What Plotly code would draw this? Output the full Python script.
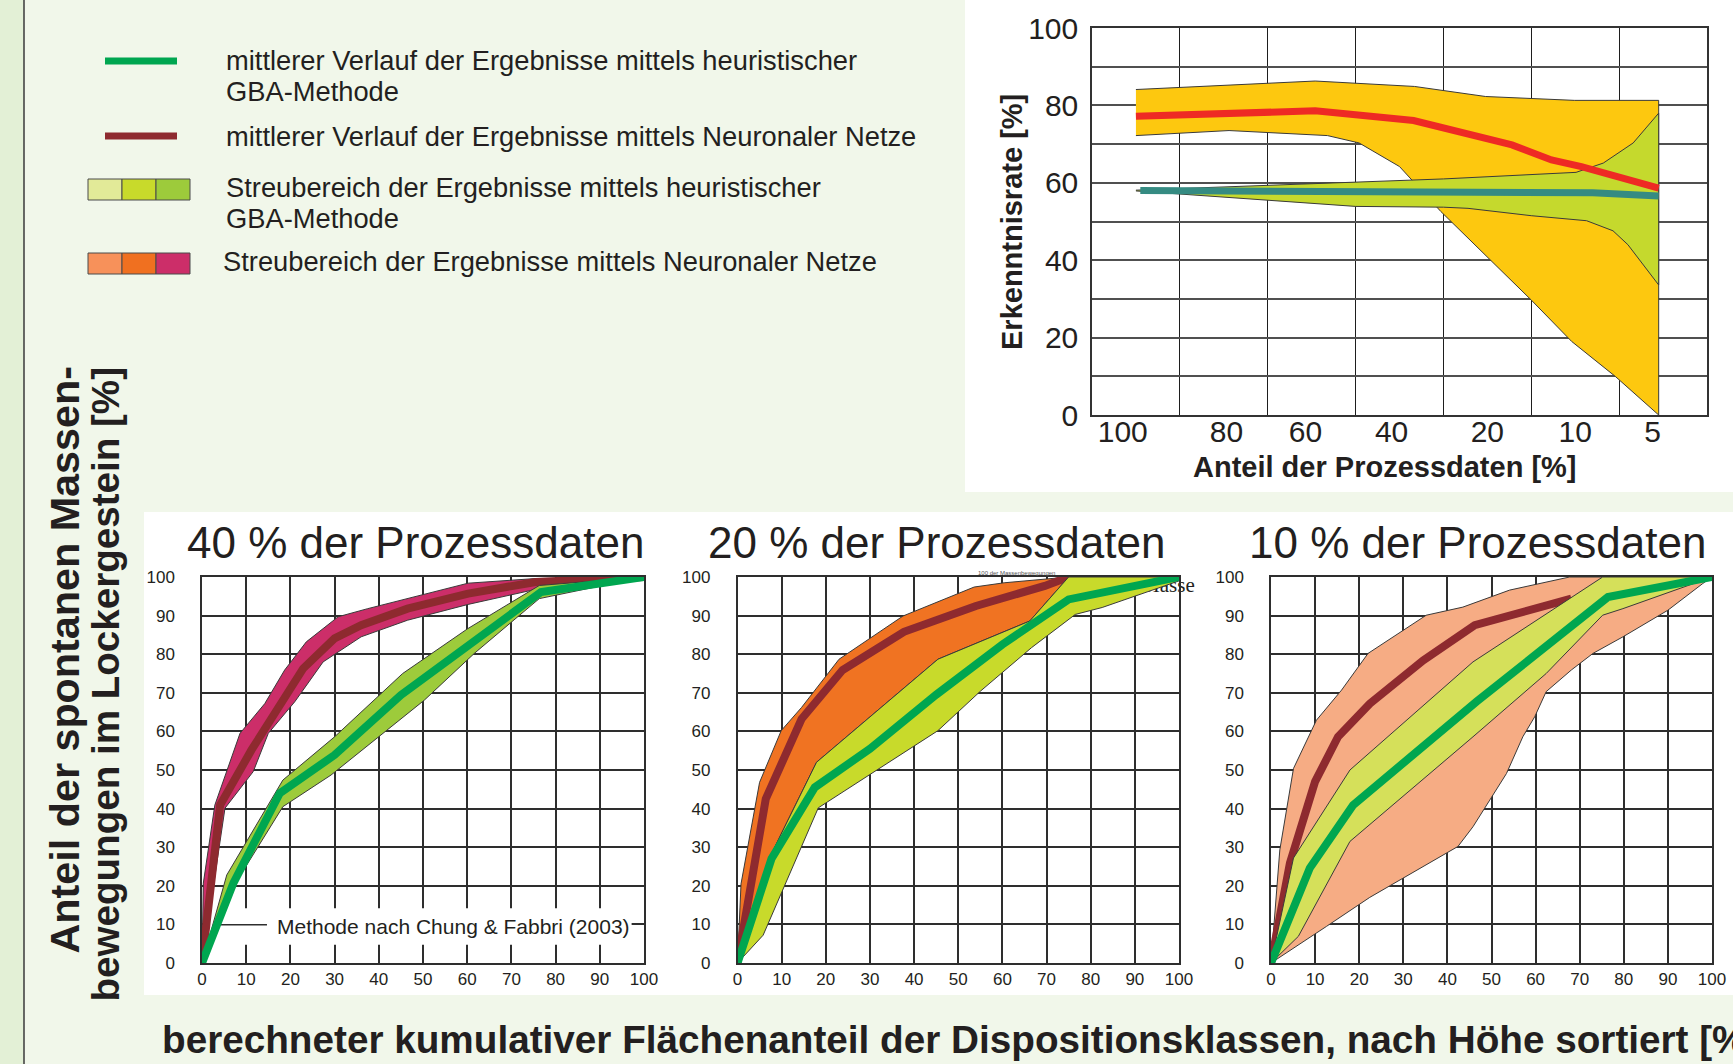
import plotly.graph_objects as go

W, H = 1733, 1064

# ---------------- top chart: recognition rate vs. share of process data ----------------
share_labels = ["100", "80", "60", "40", "20", "10", "5"]
share_label_pos = [-0.15, 1.03, 1.93, 2.91, 4.0, 5.0, 5.88]
rate_ticks = [0, 20, 40, 60, 80, 100]

# x values are category positions (0 = 100 %, 6 = 5 %)
nn_spread_upper_x = [0, 2.04, 3.17, 3.98, 4.99, 5.95]
nn_spread_upper_y = [84.1, 86.3, 84.9, 82.3, 81.3, 81.3]
nn_spread_lower_x = [0, 1.06, 2.18, 2.54, 3.0, 3.47, 4.5, 4.96, 5.46, 5.95]
nn_spread_lower_y = [72.2, 73.5, 72.2, 70.3, 64.2, 52.6, 29.7, 19.0, 9.9, 0]

gba_spread_upper_x = [0, 2.5, 3.5, 5.01, 5.32, 5.66, 5.95]
gba_spread_upper_y = [58.1, 60.1, 61.0, 62.7, 65.1, 70.3, 78.0]
gba_spread_lower_x = [0, 2.5, 3.5, 3.78, 4.5, 5.13, 5.43, 5.6, 5.95]
gba_spread_lower_y = [57.9, 53.9, 53.7, 53.4, 51.5, 50.2, 47.6, 44.0, 33.6]

nn_rate_x = [0, 2.04, 3.16, 4.28, 4.73, 5.07, 5.95]
nn_rate_y = [77.2, 78.6, 76.1, 69.8, 65.9, 64.2, 58.6]
gba_rate_x = [0.05, 2.5, 4.0, 5.2, 5.95]
gba_rate_y = [58.0, 57.6, 57.5, 57.4, 56.6]

# ---------------- bottom panels: cumulative curves ----------------
panel_titles = ["40 % der Prozessdaten", "20 % der Prozessdaten", "10 % der Prozessdaten"]
percent_ticks = list(range(0, 101, 10))

# 40 % of process data
nn40_upper_x = [0, 0.3, 2.9, 8.6, 14.2, 18.7, 23.6, 30.8, 37.5, 46.5, 55.6, 60.2, 75.5, 100]
nn40_upper_y = [0, 20.7, 40.9, 59.5, 67.2, 75.9, 83.2, 89.7, 91.8, 94.4, 97.0, 98.4, 99.6, 100]
nn40_lower_x = [0, 5.2, 11.6, 15.0, 21.0, 27.4, 36.0, 46.5, 60.2, 76.3, 100]
nn40_lower_y = [0, 40.1, 49.6, 59.5, 67.7, 78.0, 84.5, 88.8, 92.9, 97.0, 100]
nn40_mean_x = [0, 4.1, 11.2, 16.8, 22.9, 30, 36, 46.5, 60.2, 75.5, 100]
nn40_mean_y = [0, 40.9, 55.2, 65.5, 76.3, 84.1, 87.5, 91.8, 95.7, 98.7, 100]
gba40_upper_x = [0, 5.6, 18.3, 30, 45.4, 60.1, 76.3, 100]
gba40_upper_y = [0, 22.8, 47.4, 58.6, 75.0, 86.6, 97.8, 100]
gba40_lower_x = [0, 7.1, 18.3, 29.2, 39.4, 50.3, 61.6, 76.3, 100]
gba40_lower_y = [0, 19.8, 40.5, 48.7, 58.2, 68.1, 80.2, 94.4, 100]
gba40_mean_x = [0, 7.1, 17.6, 30, 45, 61.6, 76.7, 100]
gba40_mean_y = [0, 20.7, 44.0, 53.9, 69.4, 83.2, 96.1, 100]

# 20 % of process data
nn20_upper_x = [0, 0.8, 5.0, 9.9, 14.5, 23.0, 37.5, 53.6, 60.4, 75]
nn20_upper_y = [0, 20.5, 46.8, 60.2, 66.2, 78.7, 89.9, 97.4, 98.5, 100]
nn20_lower_x = [0, 7.3, 17.9, 45.4, 66.2, 75]
nn20_lower_y = [0, 27.4, 52.0, 78.7, 88.6, 100]
nn20_mean_x = [0, 6.4, 14.5, 23.8, 37.7, 54.0, 69.6, 75]
nn20_mean_y = [0, 42.5, 63.2, 75.9, 85.8, 92.5, 97.7, 100]
gba20_upper_x = [0, 7.3, 17.9, 45.4, 66.2, 75, 100]
gba20_upper_y = [0, 27.4, 52.0, 78.7, 88.6, 100, 100]
gba20_lower_x = [0, 5.8, 18.3, 45.4, 55.1, 66.6, 76.5, 82.6, 100]
gba20_lower_y = [0, 7.2, 40.2, 60.2, 70.5, 81.7, 90.3, 92.1, 99.0]
gba20_mean_x = [0, 7.7, 17.5, 30, 45, 60, 75, 100]
gba20_mean_y = [0, 27.0, 45.5, 55.5, 69.5, 82.5, 94.2, 100]

# 10 % of process data
nn10_upper_x = [0, 2.0, 5.1, 10.3, 16.0, 22.0, 35.2, 43.5, 54.1, 67.7, 100]
nn10_upper_y = [0, 29.3, 50.4, 62.9, 70.7, 80.2, 90.1, 92.2, 96.6, 100, 100]
nn10_lower_x = [0, 12.6, 22.4, 35.2, 42.4, 45.8, 49.6, 53.4, 57.1, 59.8, 62.4, 68.1, 73.0, 79.8, 90.0, 97.9, 100]
nn10_lower_y = [0, 9.5, 17.0, 25.5, 30.2, 35.3, 42.2, 49.1, 58.6, 63.8, 70.3, 75.9, 80.2, 84.5, 91.4, 98.3, 100]
nn10_mean_x = [0, 4.3, 10.0, 15.2, 22.4, 34.5, 46.2, 68.1]
nn10_mean_y = [0, 25.9, 47.0, 58.6, 67.2, 78.4, 87.5, 94.4]
gba10_upper_x = [0, 5.1, 17.9, 45.8, 75.2, 100]
gba10_upper_y = [0, 27.2, 50.0, 78.0, 100, 100]
gba10_lower_x = [0, 6.2, 17.9, 45.8, 62.4, 75.2, 79.8, 100]
gba10_lower_y = [0, 6.9, 31.5, 58.6, 75.0, 90.1, 91.8, 100]
gba10_mean_x = [0, 8.8, 18.6, 46.6, 76.4, 100]
gba10_mean_y = [0, 24.6, 40.9, 67.7, 94.8, 100]

# colours
GBA_MEAN = "#00A650"
NN_MEAN = "#8E2A2F"
GBA_SWATCH = ["#E2EA98", "#C8DA2B", "#9DCB3B"]
NN_SWATCH = ["#F7915A", "#F07020", "#CC2E69"]
TEXT = "#231F20"
FONT = "Liberation Sans, Arial, sans-serif"


def fx(px):
    return px / W


def fy(py):
    return 1 - py / H


def band(xu, yu, xl, yl, color, xa, ya):
    return go.Scatter(
        x=list(xu) + list(xl)[::-1], y=list(yu) + list(yl)[::-1],
        mode="lines", fill="toself", fillcolor=color,
        line=dict(color="#3a3a3a", width=1), xaxis=xa, yaxis=ya,
        hoverinfo="skip", showlegend=False,
    )


def curve(x, y, color, width, xa, ya):
    return go.Scatter(
        x=x, y=y, mode="lines", line=dict(color=color, width=width),
        xaxis=xa, yaxis=ya, hoverinfo="skip", showlegend=False,
    )


fig = go.Figure()

# top chart
fig.add_trace(band(nn_spread_upper_x, nn_spread_upper_y, nn_spread_lower_x, nn_spread_lower_y, "#FDC80F", "x", "y"))
fig.add_trace(band(gba_spread_upper_x, gba_spread_upper_y, gba_spread_lower_x, gba_spread_lower_y, "#C5D92D", "x", "y"))
fig.add_trace(curve(nn_rate_x, nn_rate_y, "#EE2A24", 7, "x", "y"))
fig.add_trace(curve(gba_rate_x, gba_rate_y, "#358B82", 7, "x", "y"))

# text partly hidden under the 20 % curves
fig.add_trace(go.Scatter(
    x=[97.5], y=[97.4], mode="text", text=["Masse"], xaxis="x3", yaxis="y3",
    textfont=dict(family="Liberation Serif, Times New Roman, serif", size=21, color=TEXT),
    cliponaxis=False, hoverinfo="skip", showlegend=False,
))

panels = [
    ("x2", "y2", nn40_upper_x, nn40_upper_y, nn40_lower_x, nn40_lower_y, nn40_mean_x, nn40_mean_y,
     gba40_upper_x, gba40_upper_y, gba40_lower_x, gba40_lower_y, gba40_mean_x, gba40_mean_y,
     NN_SWATCH[2], GBA_SWATCH[2]),
    ("x3", "y3", nn20_upper_x, nn20_upper_y, nn20_lower_x, nn20_lower_y, nn20_mean_x, nn20_mean_y,
     gba20_upper_x, gba20_upper_y, gba20_lower_x, gba20_lower_y, gba20_mean_x, gba20_mean_y,
     "#F07322", "#C8DA2B"),
    ("x4", "y4", nn10_upper_x, nn10_upper_y, nn10_lower_x, nn10_lower_y, nn10_mean_x, nn10_mean_y,
     gba10_upper_x, gba10_upper_y, gba10_lower_x, gba10_lower_y, gba10_mean_x, gba10_mean_y,
     "#F6AC84", "#D5E05A"),
]
for (xa, ya, nux, nuy, nlx, nly, nmx, nmy, gux, guy, glx, gly, gmx, gmy, ncol, gcol) in panels:
    fig.add_trace(band(nux, nuy, nlx, nly, ncol, xa, ya))
    fig.add_trace(curve(nmx, nmy, NN_MEAN, 8, xa, ya))
    fig.add_trace(band(gux, guy, glx, gly, gcol, xa, ya))
    fig.add_trace(curve(gmx, gmy, GBA_MEAN, 8, xa, ya))

# ---------------- axes ----------------
grid_dark = "#2e2e2e"
fig.update_layout(
    width=W, height=H, autosize=False,
    margin=dict(l=0, r=0, t=0, b=0, pad=0, autoexpand=False),
    paper_bgcolor="#F1F7EA", plot_bgcolor="white", showlegend=False,
    font=dict(family=FONT, color=TEXT),
    xaxis=dict(
        domain=[fx(1092), fx(1707)], range=[-0.5, 6.5], anchor="y",
        tickmode="array", tickvals=share_label_pos, ticktext=share_labels,
        showgrid=False, zeroline=False, ticks="", automargin=False,
        minor=dict(tick0=-0.5, dtick=1, showgrid=True, gridcolor="#1e1e1e", gridwidth=1.2, ticks=""),
        showline=True, mirror=True, linecolor="#333", linewidth=1.5,
        tickfont=dict(size=30, color=TEXT), ticklabelstandoff=-11,
    ),
    yaxis=dict(
        domain=[fy(415), fy(28)], range=[0, 100], anchor="x",
        tickmode="array", tickvals=rate_ticks, automargin=False,
        showgrid=True, gridcolor="#505050", gridwidth=2, zeroline=False, ticks="",
        minor=dict(tick0=0, dtick=10, showgrid=True, gridcolor="#505050", gridwidth=2, ticks=""),
        showline=True, mirror=True, linecolor="#333", linewidth=1.5,
        tickfont=dict(size=30, color=TEXT), ticklabelstandoff=6,
    ),
)

panel_x_px = [(202, 644), (737.5, 1179), (1271, 1712)]
for i, (x0, x1) in enumerate(panel_x_px):
    n = i + 2
    fig.update_layout({
        f"xaxis{n}": dict(
            domain=[fx(x0), fx(x1)], range=[0, 100], anchor=f"y{n}",
            tickmode="array", tickvals=percent_ticks, automargin=False,
            showgrid=True, gridcolor=grid_dark, gridwidth=1.5, zeroline=False, ticks="",
            showline=True, mirror=True, linecolor=grid_dark, linewidth=1.5,
            tickfont=dict(size=17, color=TEXT), ticklabelstandoff=0,
        ),
        f"yaxis{n}": dict(
            domain=[fy(963), fy(577)], range=[0, 100], anchor=f"x{n}",
            tickmode="array", tickvals=percent_ticks, automargin=False,
            showgrid=True, gridcolor=grid_dark, gridwidth=1.5, zeroline=False, ticks="",
            showline=True, mirror=True, linecolor=grid_dark, linewidth=1.5,
            tickfont=dict(size=17, color=TEXT), ticklabelstandoff=22,
        ),
    })

# ---------------- background panels, legend swatches ----------------
shapes = [
    dict(type="rect", xref="paper", yref="paper", x0=0, x1=fx(24), y0=0, y1=1,
         fillcolor="#E3F0D6", line=dict(width=0), layer="below"),
    dict(type="line", xref="paper", yref="paper", x0=fx(24), x1=fx(24), y0=0, y1=1,
         line=dict(color="#3a3a3a", width=1.5), layer="below"),
    dict(type="rect", xref="paper", yref="paper", x0=fx(965), x1=1, y0=fy(492), y1=1,
         fillcolor="white", line=dict(width=0), layer="below"),
    dict(type="rect", xref="paper", yref="paper", x0=fx(144), x1=1, y0=fy(995), y1=fy(512),
         fillcolor="white", line=dict(width=0), layer="below"),
    # label box over the 40 % grid
    dict(type="rect", xref="x2", yref="y2", x0=0.4, x1=97.2, y0=4.7, y1=14.2,
         fillcolor="white", line=dict(width=0), layer="between"),
    dict(type="line", xref="x2", yref="y2", x0=4, x1=14.7, y0=9.9, y1=9.9,
         line=dict(color=grid_dark, width=1.5), layer="between"),
    # legend line samples
    dict(type="line", xref="paper", yref="paper", x0=fx(105), x1=fx(177), y0=fy(61), y1=fy(61),
         line=dict(color=GBA_MEAN, width=7)),
    dict(type="line", xref="paper", yref="paper", x0=fx(105), x1=fx(177), y0=fy(136), y1=fy(136),
         line=dict(color=NN_MEAN, width=7)),
]
for row_top, colors in ((179, GBA_SWATCH), (253, NN_SWATCH)):
    for k, c in enumerate(colors):
        shapes.append(dict(
            type="rect", xref="paper", yref="paper",
            x0=fx(88 + 34 * k), x1=fx(122 + 34 * k), y0=fy(row_top + 21), y1=fy(row_top),
            fillcolor=c, line=dict(color="#4a4a4a", width=1),
        ))
fig.update_layout(shapes=shapes)


def text_px(x, y, text, size, xanchor="left", yanchor="middle", angle=0, color=TEXT, family=FONT):
    return dict(
        xref="paper", yref="paper", x=fx(x), y=fy(y), text=text, showarrow=False,
        xanchor=xanchor, yanchor=yanchor, textangle=angle,
        font=dict(size=size, color=color, family=family),
    )


annotations = [
    text_px(224, 61, "mittlerer Verlauf der Ergebnisse mittels heuristischer", 27.3),
    text_px(224, 92, "GBA-Methode", 27.3),
    text_px(224, 136, "mittlerer Verlauf der Ergebnisse mittels Neuronaler Netze", 27.3),
    text_px(224, 188, "Streubereich der Ergebnisse mittels heuristischer", 27.3),
    text_px(224, 218, "GBA-Methode", 27.3),
    text_px(221, 262, "Streubereich der Ergebnisse mittels Neuronaler Netze", 27.3),
    # top chart axis titles
    text_px(1012, 222, "<b>Erkenntnisrate [%]</b>", 29, xanchor="center", angle=-90),
    text_px(1385, 467, "<b>Anteil der Prozessdaten [%]</b>", 29, xanchor="center"),
    # shared axis titles of the bottom panels
    text_px(64, 365, "<b>Anteil der spontanen Massen-</b>", 41.3, xanchor="center", yanchor="top", angle=-90),
    text_px(105, 365, "<b>bewegungen im Lockergestein [%]</b>", 38.6, xanchor="center", yanchor="top", angle=-90),
    text_px(160, 1039, "<b>berechneter kumulativer Flächenanteil der Dispositionsklassen, nach Höhe sortiert [%]</b>", 38.7),
    text_px(1017, 573, "100 der Massenbewegungen", 6, xanchor="center", color="#555"),
    dict(xref="x2", yref="y2", x=56.9, y=9.5, text="Methode nach Chung & Fabbri (2003)",
         showarrow=False, font=dict(size=21, color=TEXT, family=FONT)),
]
for title, cx in zip(panel_titles, (415, 936, 1477)):
    annotations.append(text_px(cx, 542, title, 44, xanchor="center"))
fig.update_layout(annotations=annotations)

# the page itself: no body margin, so the figure sits flush in the window
page_css = (
    "document.documentElement.style.margin='0';"
    "document.documentElement.style.overflow='hidden';"
    "document.body.style.margin='0';"
    "document.body.style.overflow='hidden';"
)
fig.write_html("out.html", post_script=page_css)
